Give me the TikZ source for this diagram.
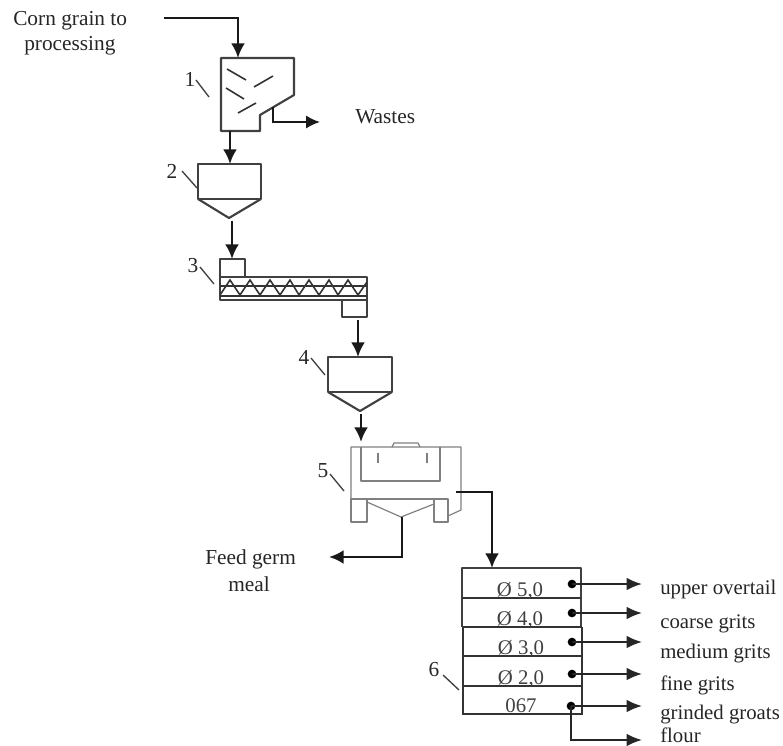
\documentclass[tikz,border=0pt]{standalone}
\usepackage{fontspec}
\setmainfont{Liberation Serif}
\usetikzlibrary{arrows.meta}
\tikzset{
  flow/.style={draw=black!90,line width=2pt,-{Latex[length=11pt,width=10.5pt]}},
  thin flow/.style={draw=black!85,line width=1.4pt,-{Latex[length=11.5pt,width=9.5pt]}},
  wasteflow/.style={draw=black!90,line width=1.7pt,-{Latex[length=10.5pt,width=10pt]}},
  equip/.style={draw=black!75,line width=1.6pt,line join=round},
  fine/.style={draw=black!80,line width=1.2pt},
  machine/.style={draw=black!50,line width=.9pt,line join=round},
  leader/.style={draw=black!75,line width=1pt},
  lbl/.style={font=\fontsize{16}{18}\selectfont,text=black!85,inner sep=0pt},
  outlbl/.style={font=\fontsize{15.6}{18}\selectfont,text=black!85,inner sep=0pt,anchor=west},
  cell/.style={font=\fontsize{15.6}{18}\selectfont,text=black!75,inner sep=0pt},
  dotmark/.style={circle,fill=black,inner sep=0pt,minimum size=6.5pt},
}
\begin{document}
\begin{tikzpicture}[x=.75pt,y=-.75pt]
\useasboundingbox (0,0) rectangle (783,746);
% labels
\node[lbl,anchor=west] (corn1) at (13,21) {Corn grain to};
\node[lbl,anchor=west] (corn2) at (24,46) {processing};
\node[lbl,anchor=west] (wastes) at (355,117) {Wastes};
\node[lbl] (n1) at (190,79) {1};
\node[lbl] (n2) at (172,171) {2};
\node[lbl] (n3) at (193,266) {3};
\node[lbl] (n4) at (304,357) {4};
\node[lbl] (n5) at (323,471) {5};
\node[lbl] (n6) at (434,670) {6};
\node[lbl,anchor=west] (feed1) at (205,559) {Feed germ};
\node[lbl,anchor=west] (feed2) at (228,584) {meal};
% coordinates
\coordinate (in) at (164,18);
\coordinate (a1) at (238,18);
\coordinate (a1e) at (238,58);
\coordinate (s1bot) at (230,131);
\coordinate (h2top) at (230,164);
\coordinate (w0) at (273,107);
\coordinate (w1) at (273,122);
\coordinate (w2) at (320,122);
% separator 1
\draw[equip] (221,58) -- (294,58) -- (294,95) -- (260,115) -- (260,131) -- (221,131) -- cycle;
\draw[fine] (227,69) -- (246,80);
\draw[fine] (254,87) -- (273,76);
\draw[fine] (226,88) -- (244,99);
\draw[fine] (238,113) -- (256,103);
\draw[flow] (in) -- (a1) -- (a1e);
\draw[flow] (s1bot) -- (h2top);
\draw[wasteflow] (w0) -- (w1) -- (w2);
\draw[leader] (196,80) -- (209,97);
% hopper 2
\draw[equip] (198,199) -- (198,164) -- (261,164) -- (261,199) -- cycle;
\draw[equip] (198,199) -- (229,218) -- (261,199);
\draw[leader] (182,171) -- (197,188);
\coordinate (h2out) at (232,221);
\coordinate (c3in) at (232,259);
\draw[flow] (h2out) -- (c3in);
% conveyor 3
\draw[equip] (220,277) -- (220,259) -- (245,259) -- (245,277);
\draw[equip] (220,277) rectangle (367,300);
\draw[fine] (220,286) -- (367,286);
\draw[fine] (220,296) -- (367,296);
\draw[fine] (220,295) -- (230,280) -- (240,295) -- (250,280) -- (260,295) -- (270,280) -- (280,295) -- (290,280) -- (299,295) -- (309,280) -- (319,295) -- (329,280) -- (338,295) -- (348,280) -- (358,295) -- (367,282);
\draw[equip] (342,300) -- (342,317) -- (367,317) -- (367,300);
\draw[leader] (200,267) -- (214,284);
\coordinate (c3out) at (358,320);
\coordinate (h4top) at (358,357);
\draw[flow] (c3out) -- (h4top);
% hopper 4
\draw[equip] (328,392) -- (328,357) -- (392,357) -- (392,392) -- cycle;
\draw[equip] (328,392) -- (360,411) -- (392,392);
\draw[leader] (311,358) -- (325,375);
\coordinate (h4out) at (361,414);
\coordinate (m5in) at (361,442);
\draw[flow] (h4out) -- (m5in);
% machine 5
\draw[machine] (351,499) -- (351,447) -- (461,447) -- (461,510) -- (448,516);
\draw[machine] (351,499) -- (434,499);
\draw[machine] (351,499) rectangle (367,522);
\draw[machine] (434,499) rectangle (448,522);
\draw[machine] (361,447) -- (361,481) -- (440,481) -- (440,447);
\draw[machine] (392,447) -- (394,443) -- (418,443) -- (420,447);
\draw[machine,line width=1.6pt] (378,453) -- (378,463);
\draw[machine,line width=1.6pt] (427,453) -- (427,463);
\draw[machine] (367,502) -- (401,517) -- (434,504);
\draw[leader] (330,474) -- (344,491);
\coordinate (f0) at (402,517);
\coordinate (f1) at (402,557);
\coordinate (f2) at (329,557);
\draw[flow] (f0) -- (f1) -- (f2);
\coordinate (t0) at (456,492);
\coordinate (t1) at (492,492);
\coordinate (t2) at (492,568);
\draw[flow] (t0) -- (t1) -- (t2);
% sieve table 6
\draw[equip] (462,627) -- (462,568) -- (581,568) -- (581,627);
\draw[fine] (462,598) -- (581,598);
\draw[fine] (463,627) -- (582,627);
\draw[fine] (463,656) -- (581,656);
\draw[fine] (463,686) -- (581,686);
\draw[fine] (463,627) -- (463,714) -- (582,714) -- (582,627);
\draw[leader] (443,675) -- (459,690);
\node[cell] (c1) at (520,591) {Ø 5,0};
\node[cell] (c2) at (520,620) {Ø 4,0};
\node[cell] (c3) at (521,649) {Ø 3,0};
\node[cell] (c4) at (521,679) {Ø 2,0};
\node[cell] (c5) at (521,706) {067};
\node[dotmark] (d1) at (572,584) {};
\node[dotmark] (d2) at (572,613) {};
\node[dotmark] (d3) at (572,642) {};
\node[dotmark] (d4) at (572,674) {};
\node[dotmark] (d5) at (571,706) {};
\coordinate (e1) at (642,584);
\coordinate (e2) at (642,613);
\coordinate (e3) at (642,642);
\coordinate (e4) at (642,674);
\coordinate (e5) at (642,706);
\coordinate (e6a) at (571,740);
\coordinate (e6) at (642,740);
\draw[thin flow] (d1.center) -- (e1);
\draw[thin flow] (d2.center) -- (e2);
\draw[thin flow] (d3.center) -- (e3);
\draw[thin flow] (d4.center) -- (e4);
\draw[thin flow] (d5.center) -- (e5);
\draw[thin flow] (d5.center) -- (e6a) -- (e6);
\node[outlbl] (o1) at (660,589) {upper overtail};
\node[outlbl] (o2) at (660,624) {coarse grits};
\node[outlbl] (o3) at (660,654) {medium grits};
\node[outlbl] (o4) at (660,685) {fine grits};
\node[outlbl] (o5) at (660,715) {grinded groats};
\node[outlbl] (o6) at (660,735) {flour};
\end{tikzpicture}
\end{document}
